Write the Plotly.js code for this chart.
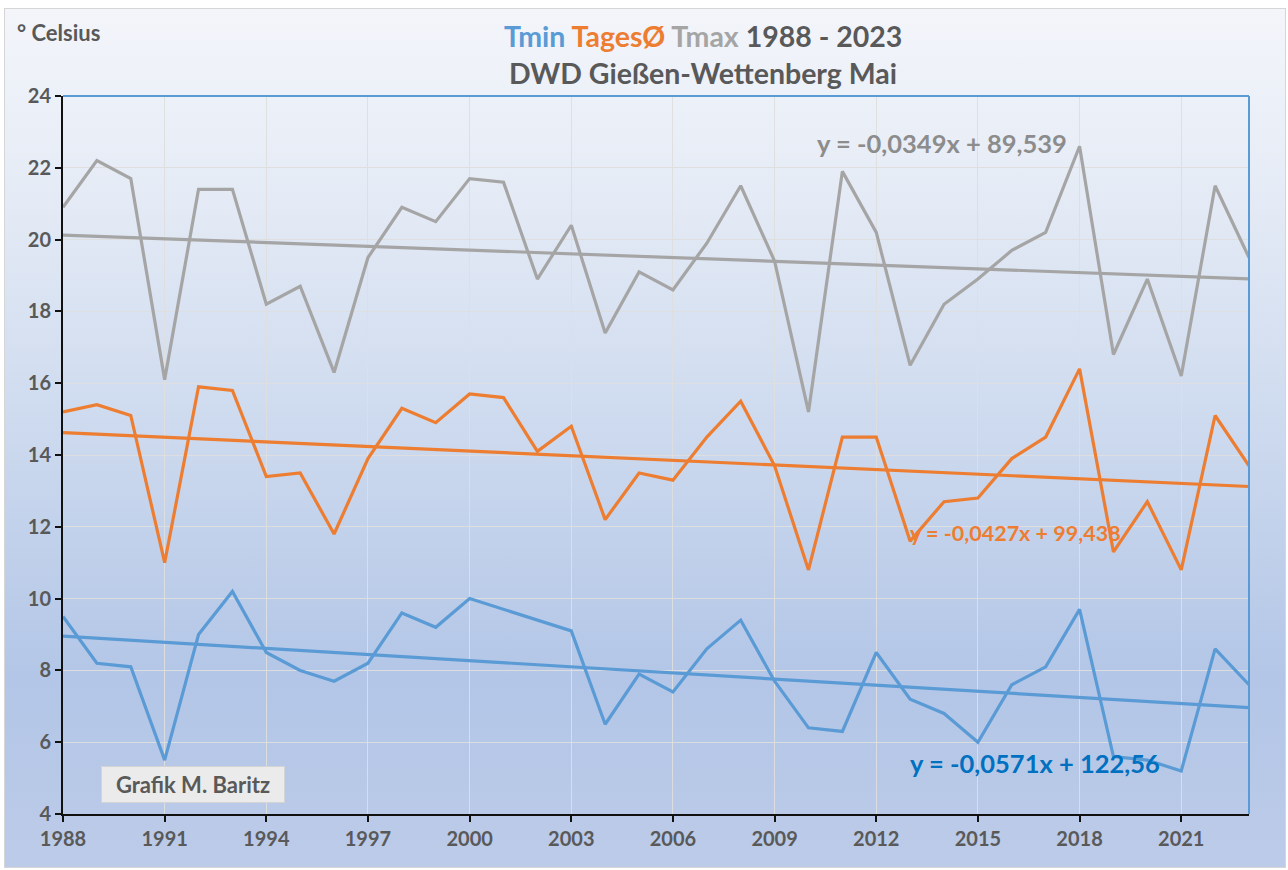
<!DOCTYPE html>
<html>
<head>
<meta charset="utf-8">
<script src="https://cdn.plot.ly/plotly-3.0.1.min.js"></script>
<style>
  html, body { margin: 0; padding: 0; background: #ffffff; }
  #bg { position: absolute; left: 4px; top: 8px; width: 1282px; height: 860px;
        border: 1px solid #d6d6d6; box-sizing: border-box;
        background: linear-gradient(to bottom, #f3f5fa 0%, #e6ecf6 20%, #ccd9ee 50%, #b3c6e7 78%, #bccbe8 100%); }
  #chart { position: absolute; left: 0; top: 0; width: 1288px; height: 870px; }
</style>
</head>
<body>
<div id="bg"></div>
<div id="chart"></div>
<script>
// ---- data (May, DWD Gießen-Wettenberg) ----
const years = [1988,1989,1990,1991,1992,1993,1994,1995,1996,1997,1998,1999,
               2000,2001,2002,2003,2004,2005,2006,2007,2008,2009,2010,2011,
               2012,2013,2014,2015,2016,2017,2018,2019,2020,2021,2022,2023];
const tmax = [20.9,22.2,21.7,16.1,21.4,21.4,18.2,18.7,16.3,19.5,20.9,20.5,
              21.7,21.6,18.9,20.4,17.4,19.1,18.6,19.9,21.5,19.4,15.2,21.9,
              20.2,16.5,18.2,18.9,19.7,20.2,22.6,16.8,18.9,16.2,21.5,19.5];
const tages = [15.2,15.4,15.1,11.0,15.9,15.8,13.4,13.5,11.8,13.9,15.3,14.9,
               15.7,15.6,14.1,14.8,12.2,13.5,13.3,14.5,15.5,13.7,10.8,14.5,
               14.5,11.6,12.7,12.8,13.9,14.5,16.4,11.3,12.7,10.8,15.1,13.7];
const tmin = [9.5,8.2,8.1,5.5,9.0,10.2,8.5,8.0,7.7,8.2,9.6,9.2,
              10.0,9.7,9.4,9.1,6.5,7.9,7.4,8.6,9.4,7.7,6.4,6.3,
              8.5,7.2,6.8,6.0,7.6,8.1,9.7,5.6,5.5,5.2,8.6,7.6];
const xTicks = [1988,1991,1994,1997,2000,2003,2006,2009,2012,2015,2018,2021];
const eqTmax = "y = -0,0349x + 89,539";
const eqTages = "y = -0,0427x + 99,438";
const eqTmin = "y = -0,0571x + 122,56";

const cMin = '#5b9bd5', cAvg = '#ed7d31', cMax = '#a5a5a5', cTxt = '#595959';
const FONT = 'Lato, "Open Sans", sans-serif';

// least-squares linear trend computed from the data
function trend(xs, ys) {
  const n = xs.length;
  const mx = xs.reduce((a,b)=>a+b,0)/n, my = ys.reduce((a,b)=>a+b,0)/n;
  let sxy = 0, sxx = 0;
  for (let i=0;i<n;i++){ sxy += (xs[i]-mx)*(ys[i]-my); sxx += (xs[i]-mx)*(xs[i]-mx); }
  const b = sxy/sxx, a = my - b*mx;
  const x0 = xs[0], x1 = xs[n-1];
  return {x:[x0,x1], y:[a+b*x0, a+b*x1]};
}

function line(x, y, color, name) {
  return {x, y, type:'scatter', mode:'lines', name, line:{color, width:3.2}, hoverinfo:'x+y'};
}
const tMax = trend(years, tmax), tAvg = trend(years, tages), tMin = trend(years, tmin);

const traces = [
  line(years, tmax, cMax, 'Tmax'),
  line(years, tages, cAvg, 'TagesØ'),
  line(years, tmin, cMin, 'Tmin'),
  line(tMax.x, tMax.y, cMax, 'Trend Tmax'),
  line(tAvg.x, tAvg.y, cAvg, 'Trend TagesØ'),
  line(tMin.x, tMin.y, cMin, 'Trend Tmin'),
];

const axisCommon = {
  showgrid: true, gridcolor: 'rgba(222,222,222,0.95)', gridwidth: 1,
  showline: true, linecolor: '#111111', linewidth: 2,
  ticks: 'outside', ticklen: 6, tickwidth: 2, tickcolor: '#111111',
  tickfont: {family: FONT, size: 20, color: cTxt, weight: 'bold'},
  zeroline: false, fixedrange: true
};

const layout = {
  width: 1288, height: 870,
  margin: {l: 63, r: 39, t: 96, b: 56},
  paper_bgcolor: 'rgba(0,0,0,0)', plot_bgcolor: 'rgba(0,0,0,0)',
  showlegend: false,
  font: {family: FONT, color: cTxt},
  xaxis: Object.assign({}, axisCommon, {range: [1988, 2023], tickvals: xTicks, ticktext: xTicks.map(String)}),
  yaxis: Object.assign({}, axisCommon, {range: [4, 24], dtick: 2, tick0: 4}),
  shapes: [
    {type:'line', xref:'paper', yref:'paper', x0:0, x1:1, y0:1, y1:1, line:{color:cMin, width:2}},
    {type:'line', xref:'paper', yref:'paper', x0:1, x1:1, y0:0, y1:1, line:{color:cMin, width:2}}
  ],
  annotations: [
    {xref:'paper', yref:'paper', x:0.5396, y:1.0835, xanchor:'center', yanchor:'middle', showarrow:false,
     text:'<span style="color:'+cMin+'">Tmin</span> <span style="color:'+cAvg+'">TagesØ</span> <span style="color:'+cMax+'">Tmax</span> 1988 - 2023',
     font:{family:FONT, size:28.5, color:cTxt, weight:'bold'}},
    {xref:'paper', yref:'paper', x:0.5396, y:1.032, xanchor:'center', yanchor:'middle', showarrow:false,
     text:'DWD Gießen-Wettenberg Mai', font:{family:FONT, size:28.5, color:cTxt, weight:'bold'}},
    {xref:'paper', yref:'paper', x:-0.0405, y:1.0891, xanchor:'left', yanchor:'middle', showarrow:false,
     text:'° Celsius', font:{family:FONT, size:22, color:cTxt, weight:'bold'}},
    {xref:'paper', yref:'paper', x:0.741, y:0.9345, xanchor:'center', yanchor:'middle', showarrow:false,
     text:eqTmax, font:{family:FONT, size:25.5, color:'#8c8c8c', weight:'bold'}},
    {xref:'paper', yref:'paper', x:0.8035, y:0.391, xanchor:'center', yanchor:'middle', showarrow:false,
     text:eqTages, font:{family:FONT, size:21.5, color:cAvg, weight:'bold'}},
    {xref:'paper', yref:'paper', x:0.8196, y:0.071, xanchor:'center', yanchor:'middle', showarrow:false,
     text:eqTmin, font:{family:FONT, size:25.5, color:'#0070c0', weight:'bold'}},
    {xref:'paper', yref:'paper', x:0.1096, y:0.0404, xanchor:'center', yanchor:'middle', showarrow:false,
     text:'Grafik M. Baritz', font:{family:FONT, size:22, color:cTxt, weight:'bold'},
     width:178, height:31, bgcolor:'#ebebeb', bordercolor:'#d4d4d4', borderwidth:1, borderpad:2}
  ]
};

Plotly.newPlot('chart', traces, layout, {displayModeBar:false, staticPlot:true});
</script>
</body>
</html>
